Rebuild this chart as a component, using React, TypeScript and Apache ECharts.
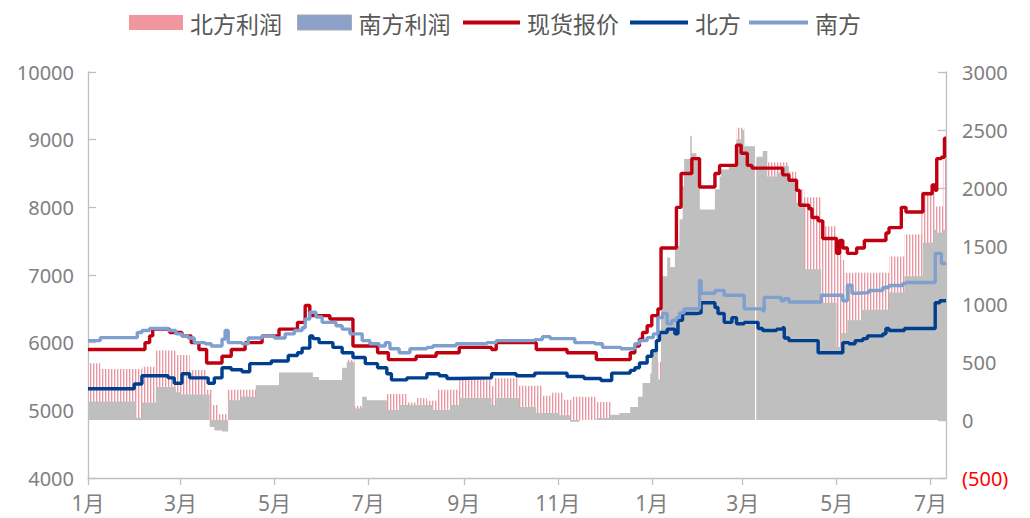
import React, { useEffect, useRef } from "react";
import * as echarts from "echarts";

// Time span of the chart (daily quotes held until the next change)
const START_DATE = "2020-01-01";
const END_DATE = "2021-07-11";

// Positions of the month labels on the time axis
const monthTicks = [
  "2020-01-01", "2020-03-01", "2020-05-01", "2020-07-01", "2020-09-01",
  "2020-11-01", "2021-01-01", "2021-03-01", "2021-05-01", "2021-07-01",
];

// Axis ranges
const priceAxis = [4000, 10000, 1000];
const profitAxis = [-500, 3000, 500];

// 现货报价 (change points: date, price)
const spotPrice: [string, number][] = [
  ["2020-01-01", 5900], ["2020-02-07", 6000], ["2020-02-10", 6100], ["2020-02-12", 6200],
  ["2020-02-23", 6150], ["2020-03-02", 6100], ["2020-03-08", 6000], ["2020-03-13", 5900],
  ["2020-03-18", 5700], ["2020-03-28", 5800], ["2020-04-03", 5900], ["2020-04-12", 6000],
  ["2020-04-23", 6100], ["2020-05-04", 6200], ["2020-05-16", 6300], ["2020-05-21", 6550],
  ["2020-05-24", 6400], ["2020-06-06", 6350], ["2020-06-21", 5950], ["2020-07-07", 5850],
  ["2020-07-14", 5750], ["2020-08-01", 5800], ["2020-08-14", 5850], ["2020-08-29", 5930],
  ["2020-09-19", 5900], ["2020-09-22", 6000], ["2020-10-18", 5900], ["2020-11-07", 5850],
  ["2020-11-26", 5750], ["2020-12-18", 5850], ["2020-12-21", 5950], ["2020-12-24", 6050],
  ["2020-12-26", 6150], ["2020-12-29", 6250], ["2021-01-01", 6400], ["2021-01-05", 6500],
  ["2021-01-07", 7400], ["2021-01-17", 8000], ["2021-01-20", 8500], ["2021-01-27", 8720],
  ["2021-02-01", 8300], ["2021-02-11", 8500], ["2021-02-14", 8620], ["2021-02-25", 8920],
  ["2021-02-28", 8800], ["2021-03-04", 8620], ["2021-03-07", 8580], ["2021-03-27", 8480],
  ["2021-03-31", 8400], ["2021-04-05", 8250], ["2021-04-07", 8030], ["2021-04-13", 7980],
  ["2021-04-15", 7850], ["2021-04-19", 7800], ["2021-04-22", 7540], ["2021-05-01", 7320],
  ["2021-05-03", 7510], ["2021-05-05", 7400], ["2021-05-08", 7320], ["2021-05-14", 7400],
  ["2021-05-19", 7510], ["2021-06-02", 7620], ["2021-06-04", 7700], ["2021-06-12", 8000],
  ["2021-06-15", 7930], ["2021-06-26", 8200], ["2021-07-02", 8330], ["2021-07-04", 8250],
  ["2021-07-05", 8720], ["2021-07-08", 8740], ["2021-07-10", 9020],
];

// 北方 (cost, left axis)
const northCost: [string, number][] = [
  ["2020-01-01", 5320], ["2020-01-31", 5390], ["2020-02-05", 5510], ["2020-02-22", 5480],
  ["2020-02-26", 5400], ["2020-03-02", 5540], ["2020-03-07", 5480], ["2020-03-19", 5400],
  ["2020-03-23", 5480], ["2020-03-28", 5630], ["2020-04-03", 5600], ["2020-04-10", 5570],
  ["2020-04-15", 5690], ["2020-04-29", 5730], ["2020-05-10", 5810], ["2020-05-16", 5850],
  ["2020-05-19", 5920], ["2020-05-24", 6100], ["2020-05-26", 6060], ["2020-05-30", 6000],
  ["2020-06-08", 5930], ["2020-06-14", 5850], ["2020-06-21", 5780], ["2020-06-29", 5690],
  ["2020-07-07", 5630], ["2020-07-13", 5540], ["2020-07-16", 5450], ["2020-07-26", 5480],
  ["2020-08-08", 5540], ["2020-08-16", 5510], ["2020-08-21", 5470], ["2020-08-27", 5480],
  ["2020-09-19", 5540], ["2020-10-05", 5510], ["2020-10-17", 5550], ["2020-11-07", 5500],
  ["2020-11-18", 5470], ["2020-11-29", 5440], ["2020-12-06", 5550], ["2020-12-18", 5590],
  ["2020-12-21", 5630], ["2020-12-24", 5700], ["2020-12-29", 5800], ["2021-01-01", 5880],
  ["2021-01-04", 6030], ["2021-01-06", 6150], ["2021-01-11", 6200], ["2021-01-16", 6130],
  ["2021-01-18", 6330], ["2021-01-21", 6430], ["2021-01-30", 6440], ["2021-02-02", 6590],
  ["2021-02-11", 6520], ["2021-02-13", 6430], ["2021-02-17", 6300], ["2021-02-22", 6370],
  ["2021-02-25", 6280], ["2021-03-02", 6300], ["2021-03-11", 6210], ["2021-03-14", 6180],
  ["2021-03-23", 6200], ["2021-03-27", 6220], ["2021-03-28", 6070], ["2021-03-31", 6030],
  ["2021-04-19", 5850], ["2021-05-05", 6000], ["2021-05-09", 5985], ["2021-05-13", 6030],
  ["2021-05-18", 6060], ["2021-05-21", 6100], ["2021-05-31", 6130], ["2021-06-02", 6210],
  ["2021-06-04", 6180], ["2021-06-14", 6210], ["2021-07-04", 6590], ["2021-07-07", 6620],
];

// 南方 (cost, left axis)
const southCost: [string, number][] = [
  ["2020-01-01", 6030], ["2020-01-09", 6075], ["2020-02-02", 6150], ["2020-02-05", 6180],
  ["2020-02-10", 6210], ["2020-02-22", 6180], ["2020-02-27", 6130], ["2020-03-02", 6100],
  ["2020-03-06", 6070], ["2020-03-10", 6000], ["2020-03-17", 5985], ["2020-03-21", 5950],
  ["2020-03-28", 6050], ["2020-03-30", 6180], ["2020-04-01", 6000], ["2020-04-10", 5985],
  ["2020-04-14", 6070], ["2020-04-23", 6100], ["2020-05-01", 6070], ["2020-05-08", 6130],
  ["2020-05-14", 6180], ["2020-05-19", 6220], ["2020-05-21", 6350], ["2020-05-24", 6450],
  ["2020-05-28", 6380], ["2020-06-01", 6300], ["2020-06-10", 6250], ["2020-06-14", 6200],
  ["2020-06-19", 6130], ["2020-06-27", 6030], ["2020-07-02", 5985], ["2020-07-08", 5950],
  ["2020-07-12", 6000], ["2020-07-15", 5910], ["2020-07-21", 5850], ["2020-07-28", 5910],
  ["2020-08-08", 5930], ["2020-08-12", 5955], ["2020-08-27", 5985], ["2020-09-16", 6000],
  ["2020-09-22", 6030], ["2020-10-17", 6045], ["2020-10-22", 6090], ["2020-10-27", 6060],
  ["2020-11-12", 6000], ["2020-11-25", 5985], ["2020-11-30", 5930], ["2020-12-12", 5910],
  ["2020-12-21", 5985], ["2020-12-24", 6030], ["2020-12-29", 6075], ["2021-01-02", 6130],
  ["2021-01-05", 6370], ["2021-01-08", 6430], ["2021-01-11", 6280], ["2021-01-14", 6330],
  ["2021-01-17", 6370], ["2021-01-19", 6440], ["2021-01-22", 6500], ["2021-02-01", 6920],
  ["2021-02-02", 6730], ["2021-02-11", 6770], ["2021-02-17", 6700], ["2021-03-02", 6500],
  ["2021-03-14", 6470], ["2021-03-15", 6670], ["2021-03-26", 6620], ["2021-03-28", 6650],
  ["2021-03-31", 6600], ["2021-04-21", 6700], ["2021-05-05", 6620], ["2021-05-08", 6850],
  ["2021-05-11", 6730], ["2021-05-14", 6740], ["2021-05-22", 6770], ["2021-05-31", 6815],
  ["2021-06-04", 6845], ["2021-06-13", 6875], ["2021-06-15", 6890], ["2021-07-04", 7320],
  ["2021-07-08", 7170],
];

// 北方利润 (right axis)
const northProfit: [string, number][] = [
  ["2020-01-01", 490], ["2020-01-09", 440], ["2020-02-05", 460], ["2020-02-14", 600],
  ["2020-02-27", 560], ["2020-03-07", 430], ["2020-03-18", 260], ["2020-03-22", 130],
  ["2020-03-26", 50], ["2020-03-31", 260], ["2020-04-19", 300], ["2020-05-04", 280],
  ["2020-06-14", 420], ["2020-06-17", 520], ["2020-06-22", 120], ["2020-07-13", 225],
  ["2020-07-26", 150], ["2020-08-01", 190], ["2020-08-08", 165], ["2020-08-15", 260],
  ["2020-08-29", 350], ["2020-09-19", 290], ["2020-09-21", 360], ["2020-10-06", 295],
  ["2020-10-22", 210], ["2020-10-28", 235], ["2020-11-05", 175], ["2020-11-10", 200],
  ["2020-11-26", 155], ["2020-12-06", 20], ["2021-01-01", 500], ["2021-01-07", 1100],
  ["2021-01-19", 1600], ["2021-01-22", 2100], ["2021-02-01", 1700], ["2021-02-11", 1900],
  ["2021-02-20", 2100], ["2021-02-25", 2520], ["2021-03-02", 2300], ["2021-03-09", 0],
  ["2021-03-10", 2250], ["2021-03-15", 2220], ["2021-03-31", 2140], ["2021-04-05", 1990],
  ["2021-04-10", 1920], ["2021-04-21", 1670], ["2021-05-01", 1440], ["2021-05-04", 1380],
  ["2021-05-06", 1270], ["2021-06-04", 1410], ["2021-06-14", 1600], ["2021-06-25", 1970],
  ["2021-07-04", 1840], ["2021-07-09", 2250],
];

// 南方利润 (right axis)
const southProfit: [string, number][] = [
  ["2020-01-01", 160], ["2020-02-01", 20], ["2020-02-05", 150], ["2020-02-14", 285],
  ["2020-02-27", 240], ["2020-03-01", 220], ["2020-03-20", -60], ["2020-03-23", -90],
  ["2020-03-28", -100], ["2020-04-01", 170], ["2020-04-09", 200], ["2020-04-19", 300],
  ["2020-05-04", 410], ["2020-05-26", 370], ["2020-05-30", 345], ["2020-06-14", 450],
  ["2020-06-17", 500], ["2020-06-22", 100], ["2020-06-27", 200], ["2020-06-30", 170],
  ["2020-07-13", 86], ["2020-07-21", 130], ["2020-08-12", 86], ["2020-08-23", 130],
  ["2020-08-29", 190], ["2020-09-19", 130], ["2020-09-22", 190], ["2020-10-07", 112],
  ["2020-10-18", 60], ["2020-11-02", 40], ["2020-11-09", -15], ["2020-11-15", 0],
  ["2020-11-26", 17], ["2020-12-05", 45], ["2020-12-11", 60], ["2020-12-18", 112],
  ["2020-12-23", 200], ["2020-12-26", 320], ["2020-12-31", 400], ["2021-01-01", 580],
  ["2021-01-04", 920], ["2021-01-05", 350], ["2021-01-07", 1240], ["2021-01-11", 1400],
  ["2021-01-13", 1320], ["2021-01-16", 1500], ["2021-01-19", 1730], ["2021-01-21", 2015],
  ["2021-01-22", 2250], ["2021-01-26", 2450], ["2021-01-27", 2300], ["2021-01-30", 2270],
  ["2021-02-01", 1815], ["2021-02-11", 1990], ["2021-02-14", 2100], ["2021-02-15", 2160],
  ["2021-02-20", 2190], ["2021-02-25", 2420], ["2021-02-28", 2500], ["2021-03-02", 2360],
  ["2021-03-09", 0], ["2021-03-10", 2270], ["2021-03-14", 2320], ["2021-03-17", 2100],
  ["2021-03-23", 2135], ["2021-03-27", 2190], ["2021-03-31", 2074], ["2021-04-04", 1875],
  ["2021-04-10", 1300], ["2021-04-21", 1010], ["2021-05-01", 630], ["2021-05-04", 750],
  ["2021-05-08", 860], ["2021-05-17", 950], ["2021-06-04", 1100], ["2021-06-14", 1240],
  ["2021-06-26", 1530], ["2021-07-03", 1640], ["2021-07-05", 1615], ["2021-07-09", 1640],
];

const ts = (d: string) => {
  const [y, m, day] = d.split("-").map(Number);
  return Date.UTC(y, m - 1, day);
};

// Each value holds until the next change; the last one holds to the end of the axis.
const toSteps = (rows: [string, number][]) => {
  const pts = rows.map(([d, v]) => [ts(d), v]);
  pts.push([ts(END_DATE), rows[rows.length - 1][1]]);
  return pts;
};

const stripeFill = () => {
  const c = document.createElement("canvas");
  c.width = 3;
  c.height = 4;
  const ctx = c.getContext("2d");
  if (ctx) {
    ctx.fillStyle = "#E898A3";
    ctx.fillRect(0, 0, 1, 4);
    ctx.fillStyle = "rgba(238,172,182,0.45)";
    ctx.fillRect(1, 0, 1, 4);
  }
  return { image: c, repeat: "repeat" };
};

const AXIS_GREY = "#BFBFBF";
const LABEL_GREY = "#7F7F7F";

export default function App() {
  const ref = useRef<HTMLDivElement>(null);

  useEffect(() => {
    if (!ref.current) return;
    const chart = echarts.init(ref.current, undefined, { renderer: "svg" });
    const tickValues = monthTicks.map(ts);

    const legendText = {
      fontSize: 23,
      color: "#595959",
      fontFamily: "'Noto Sans CJK SC', sans-serif",
      padding: [0, 0, 0, 2],
    };
    const mkLegend = (left: number, name: string, color: string, w: number, h: number, extra = {}) => ({
      left,
      top: 6,
      selectedMode: false,
      itemWidth: w,
      itemHeight: h,
      textStyle: legendText,
      data: [{ name, icon: "rect", itemStyle: { color, borderWidth: 0, ...extra } }],
    });

    const stepLine = (name: string, rows: [string, number][], color: string, z: number) => ({
      name,
      type: "line",
      yAxisIndex: 0,
      step: "end",
      symbol: "none",
      data: toSteps(rows),
      color,
      lineStyle: { color, width: 3.4 },
      z,
    });

    chart.setOption({
      animation: false,
      backgroundColor: "#FFFFFF",
      textStyle: { fontFamily: "'Noto Sans', 'Noto Sans CJK SC', sans-serif" },
      legend: [
        mkLegend(124, "北方利润", "#F0969F", 54, 15),
        mkLegend(292, "南方利润", "#8CA1C7", 54, 15, { borderColor: "#A3AABB", borderWidth: 1 }),
        mkLegend(458, "现货报价", "#C00010", 57, 4),
        mkLegend(625, "北方", "#003E8E", 58, 4),
        mkLegend(744, "南方", "#7F9FCF", 59, 4),
      ],
      grid: { left: 88, right: 84, top: 72, bottom: 40, containLabel: false, outerBoundsMode: "none" },
      xAxis: {
        type: "value",
        min: ts(START_DATE),
        max: ts(END_DATE),
        axisLine: { show: true, onZero: false, lineStyle: { color: AXIS_GREY, width: 1.3 } },
        axisTick: { show: true, customValues: tickValues, length: 7, lineStyle: { color: AXIS_GREY, width: 1.3 } },
        axisLabel: {
          customValues: tickValues,
          formatter: (v: number) => `${new Date(v).getUTCMonth() + 1}月`,
          margin: 14,
          fontSize: 21,
          color: LABEL_GREY,
        },
        splitLine: { show: false },
      },
      yAxis: [
        {
          type: "value",
          min: priceAxis[0],
          max: priceAxis[1],
          interval: priceAxis[2],
          axisLine: { show: true, lineStyle: { color: AXIS_GREY, width: 1.3 } },
          axisTick: { show: true, inside: true, length: 8, lineStyle: { color: AXIS_GREY, width: 1.3 } },
          axisLabel: { fontSize: 20, color: LABEL_GREY, margin: 14, formatter: (v: number) => `${v}` },
          splitLine: { show: false },
        },
        {
          type: "value",
          position: "right",
          min: profitAxis[0],
          max: profitAxis[1],
          interval: profitAxis[2],
          axisLine: { show: true, lineStyle: { color: AXIS_GREY, width: 1.3 } },
          axisTick: { show: true, inside: true, length: 8, lineStyle: { color: AXIS_GREY, width: 1.3 } },
          axisLabel: {
            fontSize: 20,
            color: LABEL_GREY,
            margin: 16,
            formatter: (v: number) => (v < 0 ? `{neg|(${-v})}` : `${v}`),
            rich: { neg: { color: "#FF0000", fontSize: 20 } },
          },
          splitLine: { show: false },
        },
      ],
      series: [
        {
          name: "北方利润",
          type: "line",
          yAxisIndex: 1,
          step: "end",
          symbol: "none",
          data: toSteps(northProfit),
          color: "#F0969F",
          lineStyle: { width: 0, opacity: 0 },
          areaStyle: { color: stripeFill(), opacity: 1 },
          z: 1,
        },
        {
          name: "南方利润",
          type: "line",
          yAxisIndex: 1,
          step: "end",
          symbol: "none",
          data: toSteps(southProfit),
          color: "#BFBFBF",
          lineStyle: { width: 0, opacity: 0 },
          areaStyle: { color: "#BFBFBF", opacity: 1 },
          z: 2,
        },
        stepLine("现货报价", spotPrice, "#C00010", 3),
        stepLine("北方", northCost, "#003E8E", 4),
        stepLine("南方", southCost, "#7F9FCF", 5),
      ],
    });

    return () => chart.dispose();
  }, []);

  return <div ref={ref} style={{ position: "fixed", left: 0, top: 0, width: 1030, height: 518 }} />;
}
